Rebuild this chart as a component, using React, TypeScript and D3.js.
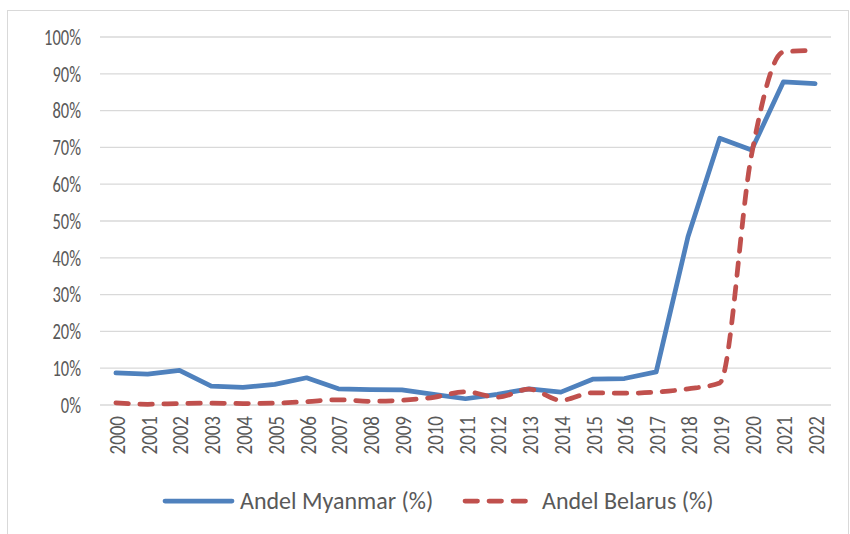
import React from 'react'
import * as d3 from 'd3'

const years = ['2000', '2001', '2002', '2003', '2004', '2005', '2006', '2007', '2008', '2009', '2010', '2011',
  '2012', '2013', '2014', '2015', '2016', '2017', '2018', '2019', '2020', '2021', '2022']
const myanmar = [8.7, 8.4, 9.4, 5.1, 4.8, 5.6, 7.4, 4.4, 4.2, 4.1, 2.9, 1.7, 2.9, 4.4, 3.5, 7.0, 7.2, 9.0, 45.7, 72.5, 69.3, 87.8, 87.3]
const belarus = [0.6, 0.2, 0.4, 0.5, 0.4, 0.5, 0.9, 1.4, 1.0, 1.3, 2.1, 3.6, 2.1, 4.3, 1.3, 3.3, 3.2, 3.5, 4.4, 6.0, 68.0, 95.9, 96.4]
const yTicks = [0, 10, 20, 30, 40, 50, 60, 70, 80, 90, 100]
const seriesNames = ['Andel Myanmar (%)', 'Andel Belarus (%)']

const W = 850
const H = 534
const M = { left: 100, right: 19, top: 37, bottom: 129 }
const FONT = 'Carlito, "Liberation Sans", Arial, sans-serif'
const BLUE = '#4f81bd'
const RED = '#c0504d'

export default function App() {
  const x = d3.scaleBand().domain(years).range([M.left, W - M.right])
  const y = d3.scaleLinear().domain([0, 100]).range([H - M.bottom, M.top])
  const cx = (d: string) => (x(d) ?? 0) + x.bandwidth() / 2

  const blueLine = d3.line<number>()
    .x((_, i) => cx(years[i]))
    .y(d => y(d))
  const redLine = d3.line<number>()
    .x((_, i) => cx(years[i]))
    .y(d => y(d))
    .curve(d3.curveMonotoneX)

  const base = y(0)

  return (
    <svg width={W} height={H} style={{ position: 'absolute', left: 0, top: 0, background: '#fff' }}>
      <rect x={7.5} y={10.5} width={841} height={530} fill="#fff" stroke="#d9d9d9" strokeWidth={1} />

      {/* gridlines + y labels */}
      {yTicks.map(t => (
        <g key={t}>
          <line x1={M.left} x2={W - M.right} y1={y(t)} y2={y(t)} stroke="#d9d9d9" strokeWidth={1.3} />
          <text transform={`translate(81,${y(t)}) scale(1,1.3)`} dy="0.36em" textAnchor="end"
            fontSize={16.5} fill="#595959" fontFamily={FONT}>
            {t}%
          </text>
        </g>
      ))}

      {/* x labels, rotated */}
      {years.map(yr => (
        <text key={yr} transform={`translate(${cx(yr) + 9},${base + 11}) rotate(-90) scale(1,1.2)`} textAnchor="end"
          fontSize={19} fill="#595959" fontFamily={FONT}>
          {yr}
        </text>
      ))}

      <path d={blueLine(myanmar) ?? ''} fill="none" stroke={BLUE} strokeWidth={4.75} strokeLinejoin="round" strokeLinecap="round" />
      <path d={redLine(belarus) ?? ''} fill="none" stroke={RED} strokeWidth={4.75} strokeDasharray="12.5 11.5" strokeLinecap="round" />

      {/* legend */}
      <g fontFamily={FONT} fontSize={24} fill="#595959">
        <line x1={165} x2={232} y1={501} y2={501} stroke={BLUE} strokeWidth={4.75} strokeLinecap="round" />
        <text x={240} y={501} dy="0.34em">{seriesNames[0]}</text>
        <line x1={465} x2={532} y1={501} y2={501} stroke={RED} strokeWidth={4.75} strokeDasharray="12.5 11.5" strokeLinecap="round" />
        <text x={542} y={501} dy="0.34em">{seriesNames[1]}</text>
      </g>
    </svg>
  )
}
